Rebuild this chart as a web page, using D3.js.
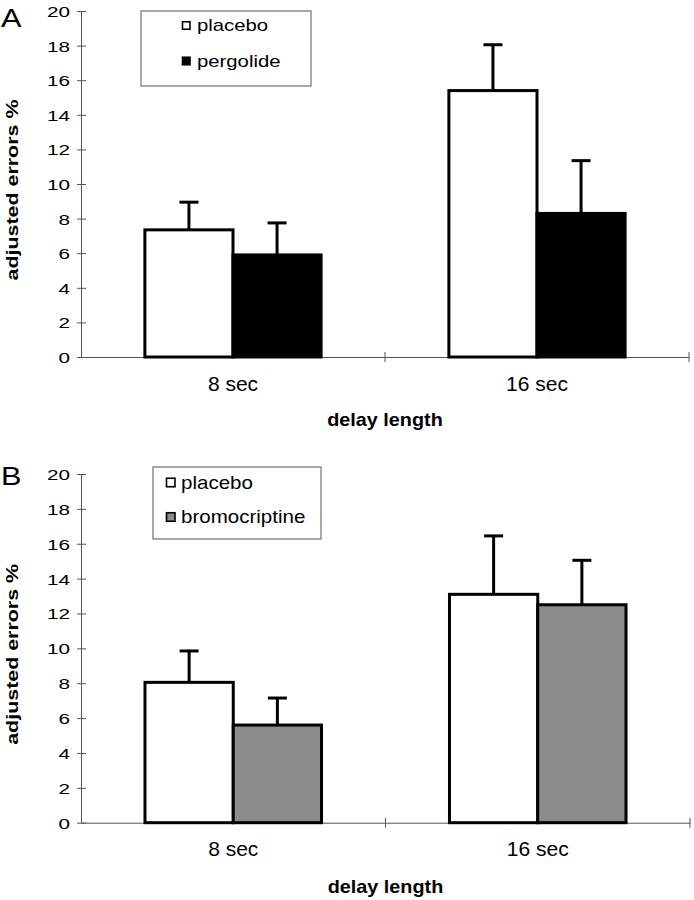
<!DOCTYPE html>
<html>
<head>
<meta charset="utf-8">
<script src="https://cdn.jsdelivr.net/npm/d3@7"></script>
<style>
  html, body { margin: 0; padding: 0; background: #fff; }
  svg { display: block; font-family: "Liberation Sans", Arial, sans-serif; }
</style>
</head>
<body>
<svg id="chart" width="694" height="900"></svg>
<script>
// ---- data ----
const categories = ["8 sec", "16 sec"];
const yTicks = [0, 2, 4, 6, 8, 10, 12, 14, 16, 18, 20];

const panelA_series = ["placebo", "pergolide"];
const panelA_placebo = [7.35, 15.4];
const panelA_placeboErr = [1.6, 2.65];
const panelA_pergolide = [5.9, 8.3];
const panelA_pergolideErr = [1.85, 3.05];

const panelB_series = ["placebo", "bromocriptine"];
const panelB_placebo = [8.05, 13.1];
const panelB_placeboErr = [1.8, 3.35];
const panelB_bromocriptine = [5.6, 12.5];
const panelB_bromocriptineErr = [1.55, 2.55];

const yTitle = "adjusted errors %";
const xTitle = "delay length";

// ---- helpers ----
const svg = d3.select("#chart");

function label(g, x, y, str, o = {}) {
  const sx = o.sx || 1;
  const rot = o.rotate ? ` rotate(${o.rotate})` : "";
  return g.append("text")
    .attr("transform", `translate(${x},${y})${rot} scale(${sx},1)`)
    .attr("text-anchor", o.anchor || "start")
    .attr("font-size", o.size || 16)
    .attr("font-weight", o.weight || "normal")
    .attr("fill", "#000")
    .text(str);
}

function drawPanel(cfg) {
  const g = svg.append("g");
  const x0 = d3.scaleBand().domain(categories).range([cfg.left, cfg.right]).padding(0);
  const x1 = d3.scaleBand().domain(cfg.series).range([0, x0.bandwidth()])
    .paddingInner(0).paddingOuter(0.725);
  const y = d3.scaleLinear().domain([0, 20]).range([cfg.bottom, cfg.top]);
  const color = d3.scaleOrdinal().domain(cfg.series).range(cfg.fills);

  // y axis
  const ya = g.append("g").attr("transform", `translate(${cfg.left},0)`)
    .call(d3.axisLeft(y).tickValues(yTicks).tickSizeOuter(0).tickSizeInner(4).tickPadding(11));
  ya.select(".domain").attr("stroke", "#555").attr("stroke-width", 1);
  ya.selectAll(".tick line").attr("x1", 5).attr("x2", -4).attr("stroke", "#555");
  ya.selectAll(".tick text")
    .attr("x", null).attr("dy", null)
    .attr("transform", "translate(-11,5.5) scale(1.38,1)")
    .attr("font-size", 15).attr("font-family", "Liberation Sans, Arial, sans-serif")
    .attr("fill", "#000");

  // x axis
  const xa = g.append("g").attr("transform", `translate(0,${cfg.bottom})`)
    .call(d3.axisBottom(x0).tickSizeOuter(0).tickSize(0).tickPadding(0));
  xa.select(".domain").attr("stroke", "#555").attr("stroke-width", 1);
  xa.selectAll(".tick text")
    .attr("y", 33.5).attr("dy", null)
    .attr("font-size", 21).attr("font-family", "Liberation Sans, Arial, sans-serif")
    .attr("fill", "#000");
  // boundary ticks between categories
  g.selectAll("line.bt").data(categories).join("line").attr("class", "bt")
    .attr("x1", d => x0(d) + x0.bandwidth()).attr("x2", d => x0(d) + x0.bandwidth())
    .attr("y1", cfg.bottom - 5).attr("y2", cfg.bottom + 5)
    .attr("stroke", "#555").attr("stroke-width", 1);

  // bars
  const rows = [];
  cfg.series.forEach((s, si) => {
    categories.forEach((c, ci) => {
      rows.push({ s, c, v: cfg.values[si][ci], e: cfg.errors[si][ci] });
    });
  });
  const bars = g.append("g");
  // error bars (drawn first so bar outline covers base)
  const eb = g.append("g");
  eb.selectAll("line.ev").data(rows).join("line").attr("class", "ev")
    .attr("x1", d => x0(d.c) + x1(d.s) + x1.bandwidth() / 2)
    .attr("x2", d => x0(d.c) + x1(d.s) + x1.bandwidth() / 2)
    .attr("y1", d => y(d.v)).attr("y2", d => y(d.v + d.e))
    .attr("stroke", "#000").attr("stroke-width", 3);
  eb.selectAll("line.ec").data(rows).join("line").attr("class", "ec")
    .attr("x1", d => x0(d.c) + x1(d.s) + x1.bandwidth() / 2 - 9.5)
    .attr("x2", d => x0(d.c) + x1(d.s) + x1.bandwidth() / 2 + 9.5)
    .attr("y1", d => y(d.v + d.e)).attr("y2", d => y(d.v + d.e))
    .attr("stroke", "#000").attr("stroke-width", 3);
  bars.selectAll("rect").data(rows).join("rect")
    .attr("x", d => x0(d.c) + x1(d.s))
    .attr("width", x1.bandwidth())
    .attr("y", d => y(d.v))
    .attr("height", d => y(0) - y(d.v))
    .attr("fill", d => color(d.s))
    .attr("stroke", "#000").attr("stroke-width", 3);
  eb.raise();

  // y title
  label(g, 18, (cfg.top + cfg.bottom) / 2 + 6, yTitle,
    { rotate: -90, anchor: "middle", size: 17, weight: "bold", sx: 1.26 });
  // x title
  label(g, (cfg.left + cfg.right) / 2, cfg.bottom + cfg.xTitleOffset, xTitle,
    { anchor: "middle", size: 18, weight: "bold", sx: 1.1 });
  // panel letter
  label(g, 1, cfg.letterY, cfg.letter, { size: 26, sx: 1.18 });

  // legend
  const L = cfg.legend;
  g.append("rect").attr("x", L.x).attr("y", L.y).attr("width", L.w).attr("height", L.h)
    .attr("fill", "#fff").attr("stroke", "#555").attr("stroke-width", 1);
  cfg.series.forEach((s, i) => {
    const cy = L.y + L.first + i * L.gap;
    g.append("rect").attr("x", L.x + L.sw).attr("y", cy - L.ss / 2)
      .attr("width", L.ss).attr("height", L.ss)
      .attr("fill", color(s)).attr("stroke", "#000").attr("stroke-width", 1.6);
    label(g, L.x + L.tx, cy + L.size * 0.36, s, { size: L.size, sx: L.sx });
  });
}

drawPanel({
  letter: "A", letterY: 27,
  left: 81, right: 689, top: 11, bottom: 357,
  series: panelA_series,
  values: [panelA_placebo, panelA_pergolide],
  errors: [panelA_placeboErr, panelA_pergolideErr],
  fills: ["#ffffff", "#000000"],
  xTitleOffset: 69,
  legend: { x: 141, y: 11, w: 170, h: 75, first: 14.5, gap: 35.5, sw: 41.5, ss: 7.5, tx: 56, size: 16, sx: 1.27 }
});

drawPanel({
  letter: "B", letterY: 485,
  left: 81, right: 690, top: 474, bottom: 822.7,
  series: panelB_series,
  values: [panelB_placebo, panelB_bromocriptine],
  errors: [panelB_placeboErr, panelB_bromocriptineErr],
  fills: ["#ffffff", "#8c8c8c"],
  xTitleOffset: 70,
  legend: { x: 153, y: 467, w: 168, h: 72, first: 15.5, gap: 34.5, sw: 13.5, ss: 8.5, tx: 28, size: 18, sx: 1.14 }
});
</script>
</body>
</html>
